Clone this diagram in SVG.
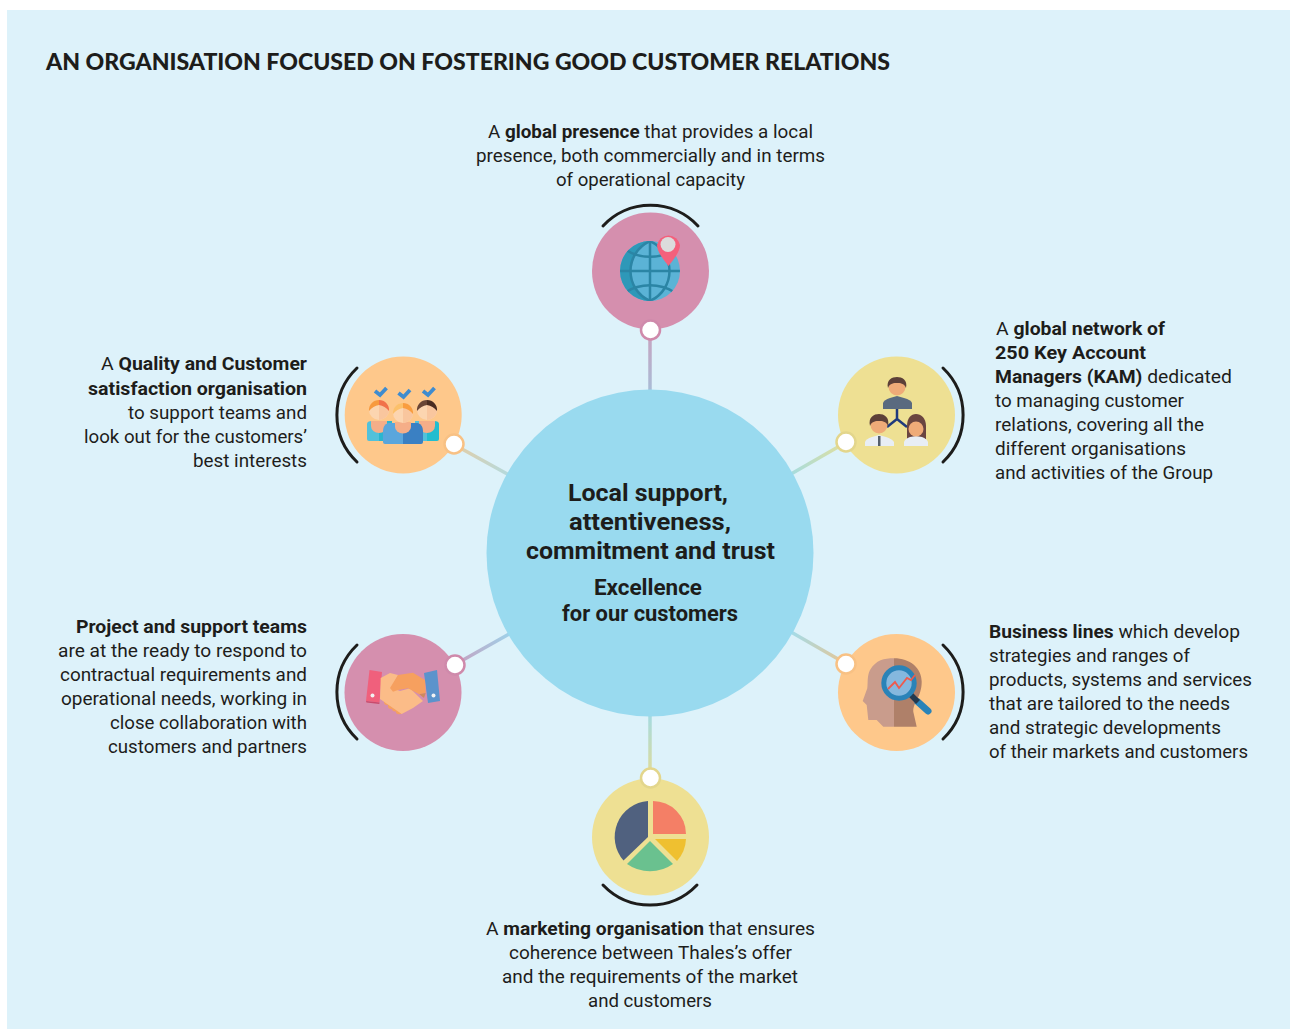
<svg xmlns="http://www.w3.org/2000/svg" width="1290" height="1029" viewBox="0 0 1290 1029">
<style>
text{font-family:Roboto,"Noto Sans","Liberation Sans",sans-serif;fill:#1d1d1b;font-size:18.500px}
.b{font-weight:700}
.t{font-size:22.500px;font-weight:900;font-family:Lato,"Liberation Sans",Arial,sans-serif}
.c1{font-size:24.500px;font-weight:700}
.c2{font-size:21.500px;font-weight:700}
.arc{fill:none;stroke:#1d1d1b;stroke-width:3;stroke-linecap:round}
.dot{fill:#fff;stroke-width:2.500}
.line{fill:none;stroke-width:3.500}
.tick{fill:none;stroke:#3f8ccf;stroke-width:3.800}
.f1{fill:#fcd5b0}
.f2{fill:#f9c69e}
.n{fill:#f5ae88}
</style>
<defs>
<linearGradient id="g1" gradientUnits="userSpaceOnUse" x1="650" y1="340" x2="650" y2="390"><stop offset="0" stop-color="#c4a6c2"/><stop offset="1" stop-color="#a9bcd6"/></linearGradient>
<linearGradient id="g2" gradientUnits="userSpaceOnUse" x1="463" y1="449" x2="509" y2="475"><stop offset="0" stop-color="#dccfae"/><stop offset="1" stop-color="#b4dade"/></linearGradient>
<linearGradient id="g3" gradientUnits="userSpaceOnUse" x1="837" y1="447" x2="793" y2="473"><stop offset="0" stop-color="#d9dfa6"/><stop offset="1" stop-color="#a8dcdc"/></linearGradient>
<linearGradient id="g4" gradientUnits="userSpaceOnUse" x1="464" y1="660" x2="509" y2="634"><stop offset="0" stop-color="#c0a8c6"/><stop offset="1" stop-color="#a0d0e8"/></linearGradient>
<linearGradient id="g5" gradientUnits="userSpaceOnUse" x1="837" y1="659" x2="793" y2="634"><stop offset="0" stop-color="#dcc9a0"/><stop offset="1" stop-color="#a6dbe6"/></linearGradient>
<linearGradient id="g6" gradientUnits="userSpaceOnUse" x1="650" y1="717" x2="650" y2="768"><stop offset="0" stop-color="#a6dbdf"/><stop offset="1" stop-color="#dadca0"/></linearGradient>
<clipPath id="globe"><circle cx="650" cy="271" r="30"/></clipPath>
</defs>
<rect width="1290" height="1029" fill="#fff"/>
<rect x="7" y="10" width="1283" height="1019" fill="#ddf2fa"/>
<text class="t" x="46" y="70" textLength="844" lengthAdjust="spacingAndGlyphs">AN ORGANISATION FOCUSED ON FOSTERING GOOD CUSTOMER RELATIONS</text>

<g id="connectors">
<path class="line" stroke="url(#g1)" d="M650 338V392"/>
<path class="line" stroke="url(#g2)" d="M462 449L511 476"/>
<path class="line" stroke="url(#g3)" d="M838 447L791 474"/>
<path class="line" stroke="url(#g4)" d="M463 660L511 633"/>
<path class="line" stroke="url(#g5)" d="M838 659L791 632"/>
<path class="line" stroke="url(#g6)" d="M650 714V770"/>
</g>

<g id="center">
<circle cx="650" cy="553" r="163.500" fill="#99daef"/>
<text class="c1" x="568" y="501" textLength="160" lengthAdjust="spacingAndGlyphs">Local support,</text>
<text class="c1" x="569" y="530" textLength="162" lengthAdjust="spacingAndGlyphs">attentiveness,</text>
<text class="c1" x="526" y="559" textLength="249" lengthAdjust="spacingAndGlyphs">commitment and trust</text>
<text class="c2" x="594" y="595" textLength="108" lengthAdjust="spacingAndGlyphs">Excellence</text>
<text class="c2" x="562" y="621" textLength="176" lengthAdjust="spacingAndGlyphs">for our customers</text>
</g>

<g id="node-global">
<path class="arc" d="M603 226A65 65 0 0 1 698 226"/>
<circle cx="650.500" cy="271" r="58.500" fill="#d58fae"/>
<circle cx="650" cy="271" r="30" fill="#5bb3d6"/>
<path d="M650 241A30 30 0 0 0 650 301C636 292 630 282 630 271C630 260 636 250 650 241Z" fill="#2e98b8"/>
<g clip-path="url(#globe)" fill="none" stroke="#2b85a5" stroke-width="2.500">
<path d="M620 271H680M650 241V301"/>
<path d="M650 241C624 253 624 289 650 301M650 241C676 253 676 289 650 301"/>
<path d="M626 250C640 259 660 259 674 250M626 292C640 283 660 283 674 292"/>
</g>
<path d="M668.500 266C662 258 657 251 657 245A11.700 11.700 0 0 1 680 245C680 251 675 258 668.500 266Z" fill="#f4607c"/>
<circle cx="668" cy="244.500" r="7.500" fill="#dcdcdc"/>
<circle class="dot" cx="650.500" cy="330" r="9.500" stroke="#cf8aab"/>
<text x="488" y="138" textLength="325" lengthAdjust="spacingAndGlyphs">A <tspan class="b">global presence</tspan> that provides a local</text>
<text x="476" y="162" textLength="349" lengthAdjust="spacingAndGlyphs">presence, both commercially and in terms</text>
<text x="556" y="186" textLength="189" lengthAdjust="spacingAndGlyphs">of operational capacity</text>
</g>

<g id="node-kam">
<path class="arc" d="M943 368A65 65 0 0 1 943 462"/>
<circle cx="896.500" cy="415" r="58.500" fill="#eee093"/>
<path d="M897 409V419M897 419L887 427M897 419L907 427" fill="none" stroke="#1f3a7d" stroke-width="2.500"/>
<path d="M883 409V403Q884 400 890 398L897 396L904 398Q911 400 912 403V409Z" fill="#5a6a7f"/>
<circle cx="897" cy="387" r="8.500" fill="#efab78"/>
<path d="M888 388C886 380 892 377 897 377C902 377 908 380 906 388C904 383 900 383 897 383C894 383 890 383 888 388Z" fill="#5c4038"/>
<path d="M865 446V442Q866 439 872 437L879 435L886 437Q892 439 894 442V446Z" fill="#e8eef5"/>
<path d="M878 436H880.500V446H878Z" fill="#555f6b"/>
<circle cx="879" cy="425" r="8.500" fill="#efab78"/>
<path d="M870 426C868 417 874 414 879 414C884 414 890 417 888 426C886 421 882 421 879 421C876 421 872 421 870 426Z" fill="#5c4038"/>
<path d="M907 439V426C907 418 911 414 916 414C921 414 926 418 926 426V439Z" fill="#6a4540"/>
<path d="M904 446V442Q905 439 910 437L916 436L922 437Q927 439 928 442V446Z" fill="#e8eef5"/>
<circle cx="916" cy="429" r="7.500" fill="#efab78"/>
<circle class="dot" cx="846" cy="442" r="9.500" stroke="#e3d68c"/>
<text x="996" y="335" textLength="169" lengthAdjust="spacingAndGlyphs">A <tspan class="b">global network of</tspan></text>
<text class="b" x="995" y="359" textLength="151" lengthAdjust="spacingAndGlyphs">250 Key Account</text>
<text x="995" y="383" textLength="237" lengthAdjust="spacingAndGlyphs"><tspan class="b">Managers (KAM)</tspan> dedicated</text>
<text x="995" y="407" textLength="189" lengthAdjust="spacingAndGlyphs">to managing customer</text>
<text x="995" y="431" textLength="209" lengthAdjust="spacingAndGlyphs">relations, covering all the</text>
<text x="995" y="455" textLength="191" lengthAdjust="spacingAndGlyphs">different organisations</text>
<text x="995" y="479" textLength="218" lengthAdjust="spacingAndGlyphs">and activities of the Group</text>
</g>

<g id="node-business">
<path class="arc" d="M943 645A65 65 0 0 1 943 739"/>
<circle cx="896.500" cy="692.500" r="58.500" fill="#fec88b"/>
<path d="M894 658.300C884 658.300 876 660 870 670C867 676 868 682 867.300 688.300L862.700 701L866.700 705L868.300 720H876.700L883.300 726.700H894Z" fill="#c99c8c"/>
<path d="M894 658.300C910 658.300 921.700 668 921.700 681.700C921.700 697 913 702 913.300 711.700L916.700 726.700H894Z" fill="#af8069"/>
<path d="M918 702L928 711" stroke="#2a83b8" stroke-width="7" stroke-linecap="round"/>
<path d="M910 694L918 702" stroke="#23394f" stroke-width="5.500"/>
<circle cx="899" cy="683" r="15.200" fill="#85b8de" stroke="#2a83b8" stroke-width="5"/>
<path d="M888 689L895 682L899 688L907 678L911 680L915 675" fill="none" stroke="#ef5a4c" stroke-width="1.800"/>
<circle class="dot" cx="846" cy="664" r="9.500" stroke="#f8c184"/>
<text x="989" y="638" textLength="251" lengthAdjust="spacingAndGlyphs"><tspan class="b">Business lines</tspan> which develop</text>
<text x="989" y="662" textLength="201" lengthAdjust="spacingAndGlyphs">strategies and ranges of</text>
<text x="989" y="686" textLength="263" lengthAdjust="spacingAndGlyphs">products, systems and services</text>
<text x="989" y="710" textLength="241" lengthAdjust="spacingAndGlyphs">that are tailored to the needs</text>
<text x="989" y="734" textLength="232" lengthAdjust="spacingAndGlyphs">and strategic developments</text>
<text x="989" y="758" textLength="259" lengthAdjust="spacingAndGlyphs">of their markets and customers</text>
</g>

<g id="node-marketing">
<path class="arc" d="M603 885A65 65 0 0 0 697 885"/>
<circle cx="650.500" cy="837" r="58.500" fill="#eee093"/>
<path d="M648 801V837L623.500 860.500A36 36 0 0 1 648 801Z" fill="#50617f"/>
<path d="M653 801A33 33 0 0 1 686 834H653Z" fill="#f47f66"/>
<path d="M655 839H686A35 35 0 0 1 677 861Z" fill="#efc030"/>
<path d="M650 841L673 864A40 40 0 0 1 627 864Z" fill="#6ac18f"/>
<circle class="dot" cx="650.500" cy="778" r="9.500" stroke="#e3d68c"/>
<text x="486" y="935" textLength="329" lengthAdjust="spacingAndGlyphs">A <tspan class="b">marketing organisation</tspan> that ensures</text>
<text x="509" y="959" textLength="283" lengthAdjust="spacingAndGlyphs">coherence between Thales’s offer</text>
<text x="502" y="983" textLength="296" lengthAdjust="spacingAndGlyphs">and the requirements of the market</text>
<text x="588" y="1007" textLength="124" lengthAdjust="spacingAndGlyphs">and customers</text>
</g>

<g id="node-teams">
<path class="arc" d="M357 645A65 65 0 0 0 357 739"/>
<circle cx="403" cy="692.500" r="58.500" fill="#d58fae"/>
<path d="M369.500 670L382 672L379.500 702.500L366 701Z" fill="#f0607c"/>
<path d="M366 701L379.500 702.500L379.300 704L366.500 702.500Z" fill="#c94a6c"/>
<circle cx="372.500" cy="695.500" r="2" fill="#f2f2f2"/>
<path d="M424 673L437 670L440 701L428 703Z" fill="#5b93cc"/>
<circle cx="433.500" cy="695.500" r="2" fill="#f2f2f2"/>
<g fill="#f6a05f"><circle cx="387" cy="702" r="3"/><circle cx="391" cy="706" r="3"/><circle cx="395" cy="708.500" r="3"/><circle cx="399" cy="711" r="3.200"/></g>
<path d="M380.700 678L390 673L398 675L391.700 688L400 691L410 688.300L423 701L413 708L401.700 714L393 708L380 699Z" fill="#fbbc88"/>
<path d="M390 688L398 675L413 672.700L425 680L425.700 693L419.300 694.300L408 688.300L398 690L393 691.700Z" fill="#f6a05f"/>
<path d="M419.300 694.300L425.700 693L424 698Z" fill="#cf8a5c"/>
<circle class="dot" cx="455" cy="665" r="9.500" stroke="#cf8aab"/>
<text class="b" x="76" y="633" textLength="231" lengthAdjust="spacingAndGlyphs">Project and support teams</text>
<text x="58" y="657" textLength="249" lengthAdjust="spacingAndGlyphs">are at the ready to respond to</text>
<text x="60" y="681" textLength="247" lengthAdjust="spacingAndGlyphs">contractual requirements and</text>
<text x="61" y="705" textLength="246" lengthAdjust="spacingAndGlyphs">operational needs, working in</text>
<text x="110" y="729" textLength="197" lengthAdjust="spacingAndGlyphs">close collaboration with</text>
<text x="108" y="753" textLength="199" lengthAdjust="spacingAndGlyphs">customers and partners</text>
</g>

<g id="node-quality">
<path class="arc" d="M357 368A65 65 0 0 0 357 462"/>
<circle cx="403.200" cy="415" r="58.500" fill="#fec88b"/>
<path d="M372 421H379V441H369Q367 441 367 439V424Q367 421 372 421Z" fill="#52c1da"/>
<path d="M379 421H392V441H379Z" fill="#2ab6cf"/>
<path d="M415 421H427V441H415Z" fill="#52c1da"/>
<path d="M427 421H434Q439 421 439 424V439Q439 441 437 441H427Z" fill="#22bdcf"/>
<path d="M371 421H387V426A8 7 0 0 1 371 426Z" class="n"/>
<path d="M419 421H435V426A8 7 0 0 1 419 426Z" class="n"/>
<circle cx="379" cy="410" r="10" class="f1"/>
<path d="M379 400A10 10 0 0 1 379 420Z" class="f2"/>
<path d="M369 411A10 10 0 0 1 379 400V405Q373 406 369 411Z" fill="#f79a3e"/>
<path d="M389 411A10 10 0 0 0 379 400V405Q385 406 389 411Z" fill="#f1724a"/>
<circle cx="427" cy="410" r="10" class="f1"/>
<path d="M427 400A10 10 0 0 1 427 420Z" class="f2"/>
<path d="M417 411A10 10 0 0 1 427 400V405Q421 406 417 411Z" fill="#6a4535"/>
<path d="M437 411A10 10 0 0 0 427 400V405Q433 406 437 411Z" fill="#4a2c20"/>
<path d="M388 423H403V444H385Q383 444 383 442V431Q383 425 388 423Z" fill="#5aa6dc"/>
<path d="M403 423H418Q423 425 423 431V442Q423 444 421 444H403Z" fill="#3a80c3"/>
<path d="M395 422H411V427A8 6.500 0 0 1 395 427Z" class="n"/>
<circle cx="403" cy="413" r="10" class="f1"/>
<path d="M403 403A10 10 0 0 1 403 423Z" class="f2"/>
<path d="M393 414A10 10 0 0 1 403 403V408Q397 409 393 414Z" fill="#fcc06a"/>
<path d="M413 414A10 10 0 0 0 403 403V408Q409 409 413 414Z" fill="#f99d3f"/>
<path class="tick" d="M375 391L380 395L386.500 388M398.500 393L403.500 397L410 390M423 391L428 395L434.500 388"/>
<circle class="dot" cx="454" cy="444" r="9.500" stroke="#f8c184"/>
<text x="101" y="370" textLength="206" lengthAdjust="spacingAndGlyphs">A <tspan class="b">Quality and Customer</tspan></text>
<text class="b" x="88" y="395" textLength="219" lengthAdjust="spacingAndGlyphs">satisfaction organisation</text>
<text x="128" y="419" textLength="179" lengthAdjust="spacingAndGlyphs">to support teams and</text>
<text x="84" y="443" textLength="223" lengthAdjust="spacingAndGlyphs">look out for the customers’</text>
<text x="193" y="467" textLength="114" lengthAdjust="spacingAndGlyphs">best interests</text>
</g>
</svg>
